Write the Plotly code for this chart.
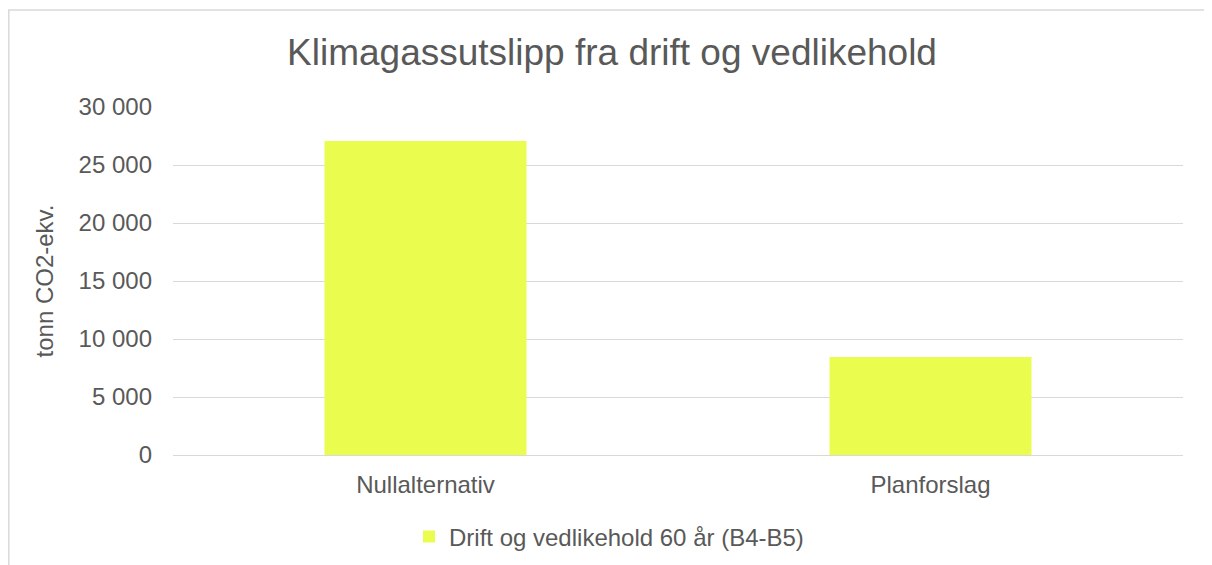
import plotly.graph_objects as go

categories = ["Nullalternativ", "Planforslag"]
values = [27070, 8450]
series_name = "Drift og vedlikehold 60 år (B4-B5)"
tick_vals = [0, 5000, 10000, 15000, 20000, 25000, 30000]
tick_text = ["0", "5 000", "10 000", "15 000", "20 000", "25 000", "30 000"]

fig = go.Figure()
fig.add_trace(go.Bar(x=categories, y=values, name=series_name,
                     marker=dict(color="#EAFD4F", line=dict(width=0)),
                     showlegend=True))

# page body adds an 8px offset
OFF = 8
L, R, T, B = 173 - OFF, 29, 107 - OFF, 110
W, H = 1212 - OFF, 565 - OFF
pw, ph = W - L - R, H - T - B

fig.update_layout(
    width=W, height=H, autosize=False,
    margin=dict(l=L, r=R, t=T, b=B, autoexpand=False),
    paper_bgcolor="white", plot_bgcolor="white",
    font=dict(family="Liberation Sans, Arial, sans-serif", color="#595959", size=24),
    title=dict(text="Klimagassutslipp fra drift og vedlikehold", x=(612 - OFF) / W, xref="container",
               xanchor="center", y=1 - (52 - OFF) / H, yref="container", yanchor="middle",
               font=dict(size=37, color="#595959")),
    bargap=0.6,
    showlegend=True,
    legend=dict(orientation="h", x=(609 - OFF - L) / pw, xanchor="center",
                y=(H - B - (537 - OFF)) / ph, yanchor="middle", font=dict(size=24, color="#595959"),
                itemwidth=30, bgcolor="rgba(0,0,0,0)"),
    xaxis=dict(showgrid=False, showline=True, linecolor="#d9d9d9", linewidth=1,
               ticks="", automargin=False, ticklabelstandoff=8,
               tickfont=dict(size=24, color="#595959")),
    yaxis=dict(range=[0, 30000], tickvals=tick_vals, ticktext=tick_text,
               showgrid=True, gridcolor="#d9d9d9", gridwidth=1, zeroline=False,
               showline=False, ticks="", ticklabelstandoff=20, automargin=False,
               tickfont=dict(size=24, color="#595959"),
               title=dict(text="tonn CO2-ekv.", font=dict(size=24, color="#595959"), standoff=18)),
    shapes=[dict(type="rect", xref="paper", yref="paper",
                 x0=(0.8 - L) / pw, x1=1.2, y0=-0.6, y1=(H - B - (10 - OFF)) / ph,
                 line=dict(color="#d9d9d9", width=1.5), fillcolor="rgba(0,0,0,0)", layer="below")],
)

fig.write_html("out.html")
